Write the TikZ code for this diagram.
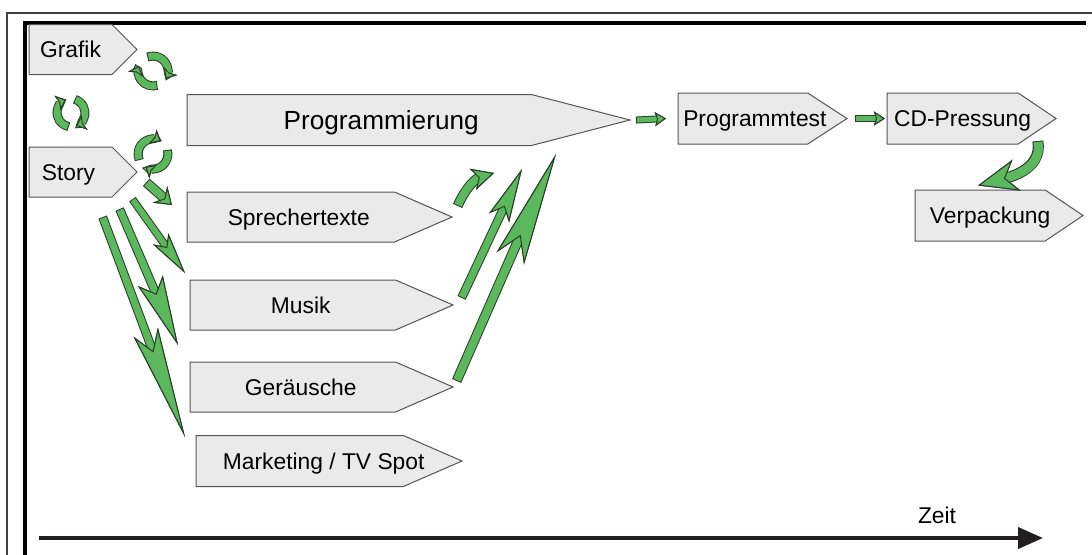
\documentclass[tikz,border=0pt]{standalone}
\usepackage{fontspec}
\setmainfont{Liberation Sans}
\usetikzlibrary{arrows.meta, shapes.symbols, calc}
\definecolor{stagefill}{RGB}{234,234,234}
\definecolor{stageedge}{RGB}{85,85,85}
\definecolor{flowgreen}{RGB}{92,184,92}
\definecolor{flowedge}{RGB}{40,62,40}
\definecolor{timeblack}{RGB}{35,31,32}
% label that does not widen its box; #1 moves it to the right
\newcommand{\stagetext}[2]{\makebox[0pt]{\hspace*{#1}#2}}

\begin{document}
\begin{tikzpicture}[x=0.5pt, y=-0.5pt,
  every node/.style={font=\fontsize{11.4}{13}\selectfont},
  stage/.style={signal, signal to=east, signal from=nowhere, draw=stageedge, fill=stagefill,
    line width=0.5pt, minimum height=25pt, inner sep=0pt, outer sep=0pt, anchor=west,
    text height=8.2pt, text depth=0pt},
  flow/.style n args={4}{draw=flowgreen, line width=#1,
    preaction={draw=flowedge, line width=#1+1pt, shorten <=-0.5pt},
    -{Stealth[length=#2, width=#3, inset=#4, line width=0.5pt, color=flowedge, fill=flowgreen]}},
  loopflow/.style={flow={3.5pt}{4.5pt}{8pt}{1pt}}]
  \clip (0,0) rectangle (1092,554);

  % frames
  \draw[line width=1pt, black!75] (7,560) |- (1100,13);
  \draw[line width=1.7pt] (25,560) |- (1086,23);

  % left column
  \node[stage, minimum width=54pt, signal pointer angle=90] (grafik) at (29,49.5) {\stagetext{0pt}{Grafik}};
  \node[stage, minimum width=54pt, signal pointer angle=90] (story) at (29,172) {\stagetext{-2pt}{Story}};

  % production stages
  \node[stage, minimum width=221.5pt, signal pointer angle=29, minimum height=25.5pt,
    font=\fontsize{13.1}{15}\selectfont, text height=9.4pt] (prog) at (187,120) {\stagetext{22pt}{Programmierung}};
  \node[stage, minimum width=132.5pt, signal pointer angle=47] (sprech) at (187,217) {\stagetext{8pt}{Sprechertexte}};
  \node[stage, minimum width=131.5pt, signal pointer angle=47] (musik) at (190,305) {\stagetext{8pt}{Musik}};
  \node[stage, minimum width=131.5pt, signal pointer angle=47] (geraeusche) at (190,387) {\stagetext{8pt}{Geräusche}};
  \node[stage, minimum width=133pt, signal pointer angle=47, minimum height=25.5pt] (marketing) at (196,461) {\stagetext{24pt}{Marketing / TV Spot}};

  % final stages
  \node[stage, minimum width=84.5pt, signal pointer angle=66, minimum height=25.5pt] (ptest) at (678,118.5) {\stagetext{12pt}{Programmtest}};
  \node[stage, minimum width=84.5pt, signal pointer angle=68, minimum height=25.5pt] (cd) at (887,118.5) {\stagetext{10pt}{CD-Pressung}};
  \node[stage, minimum width=84pt, signal pointer angle=68, minimum height=25.5pt] (verp) at (915,215.5) {\stagetext{10pt}{Verpackung}};

  % cycles
  \coordinate (cycgrafik) at ([shift={(16,21.5)}]grafik.east);
  \coordinate (cycmid) at ($(grafik.west)!0.5!(story.west) + (42,2)$);
  \coordinate (cycstory) at ([shift={(16,-18)}]story.east);
  \draw[loopflow] ([shift={(283:7.5pt)}]cycgrafik) arc[start angle=283, end angle=160, radius=7.5pt];
  \draw[loopflow] ([shift={(108:7.5pt)}]cycgrafik) arc[start angle=108, end angle=-31, radius=7.5pt];
  \draw[loopflow] ([shift={(257:7pt)}]cycmid) arc[start angle=257, end angle=112, radius=7pt];
  \draw[loopflow] ([shift={(70:7pt)}]cycmid) arc[start angle=70, end angle=-68, radius=7pt];
  \draw[loopflow] ([shift={(200:7.5pt)}]cycstory) arc[start angle=200, end angle=60, radius=7.5pt];
  \draw[loopflow] ([shift={(12:7.5pt)}]cycstory) arc[start angle=12, end angle=-120, radius=7.5pt];

  % story to media
  \draw[flow={4pt}{8pt}{11pt}{3pt}] ([shift={(10,11)}]story.east) -- ([shift={(-15,-12)}]sprech.west);
  \draw[flow={3pt}{21pt}{9.5pt}{5pt}] ([shift={(-4,28)}]story.east) -- ([shift={(-5,-32)}]musik.west);
  \draw[flow={3.5pt}{35pt}{13.5pt}{7pt}] ([shift={(-17,38)}]story.east) -- ([shift={(-12,-42)}]geraeusche.west);
  \draw[flow={3.5pt}{56pt}{13pt}{10pt}] ([shift={(-34,46)}]story.east) -- ([shift={(-11,-24)}]marketing.west);

  % media to programming
  \draw[flow={4pt}{11pt}{11pt}{3pt}] ([shift={(6,-12)}]sprech.east) to[bend left=25] ([shift={(-136,53)}]prog.east);
  \draw[flow={3.5pt}{27pt}{11pt}{6pt}] ([shift={(9,-8)}]musik.east) -- ([shift={(-108,49)}]prog.east);
  \draw[flow={4pt}{57pt}{15pt}{12pt}] ([shift={(4,-7)}]geraeusche.east) -- ([shift={(-74,34)}]prog.east);

  % release chain
  \draw[flow={2.5pt}{5.5pt}{7pt}{1pt}] ([shift={(7,0)}]prog.east) -- ([shift={(-12,0)}]ptest.west);
  \draw[flow={2.5pt}{5.5pt}{7pt}{1pt}] ([shift={(9,0)}]ptest.east) -- ([shift={(-2,0)}]cd.west);
  \draw[flow={4.5pt}{20pt}{16pt}{6pt}] ([shift={(-18,23.5)}]cd.east) to[out=-80, in=15] ([shift={(63,-30)}]verp.west);

  % time axis
  \coordinate (tstart) at (39,538);
  \coordinate (tend) at (1043,538);
  \draw[timeblack, line width=2pt, -{Triangle[length=12.5pt, width=10.5pt]}] (tstart) -- (tend);
  \node (zeit) at (937,515) {Zeit};
\end{tikzpicture}
\end{document}
